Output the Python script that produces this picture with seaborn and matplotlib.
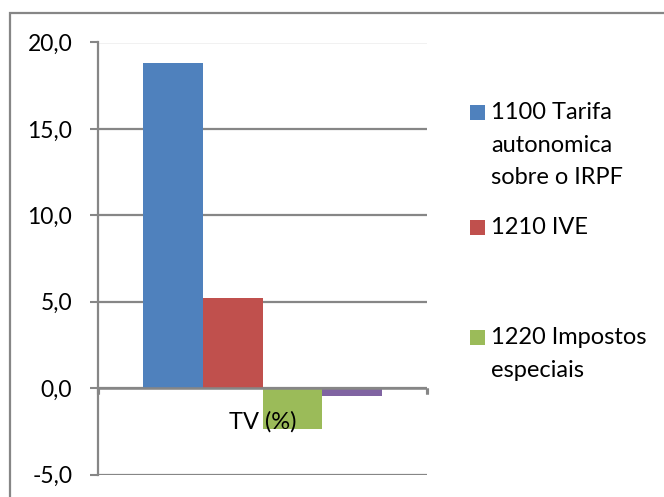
import matplotlib
matplotlib.use("Agg")
import matplotlib.pyplot as plt
import seaborn as sns
import pandas as pd
from matplotlib.patches import Rectangle
from matplotlib.ticker import FuncFormatter

# ---- data ----
category = ["TV (%)"]
series = ["1100 Tarifa\nautonomica\nsobre o IRPF", "1210 IVE", "1220 Impostos\nespeciais", "1230"]
values = [18.8, 5.2, -2.35, -0.45]
colors = ["#4F81BD", "#C0504D", "#9BBB59", "#8064A2"]
yticks = [-5, 0, 5, 10, 15, 20]

df = pd.DataFrame({"cat": category * len(series), "series": series, "value": values})

sns.set_theme(style="white")
plt.rcParams["font.family"] = ["Lato", "DejaVu Sans"]

fig = plt.figure(figsize=(6.64, 4.97), dpi=100)
W, H = 664, 497
ax = fig.add_axes([98 / W, 1 - 474.5 / H, (427 - 98) / W, (474.5 - 42.5) / H])

sns.barplot(data=df, x="cat", y="value", hue="series", palette=colors,
            width=0.727, gap=0, saturation=1, legend=False, ax=ax, zorder=2,
            linewidth=0, edgecolor="none")

grid = "#868686"
ax.set_ylim(-5, 20)
ax.set_xlim(-0.5, 0.5)
ax.set_yticks(yticks)
ax.yaxis.set_major_formatter(FuncFormatter(lambda v, p: f"{v:.1f}".replace(".", ",")))
ax.tick_params(axis="y", length=5.5, width=1.5, color=grid, direction="out",
               pad=13, labelsize=16.5, labelcolor="black", left=True)
ax.grid(axis="y", color=grid, linewidth=1.6)
ax.set_axisbelow(True)
for s in ["top", "right", "bottom"]:
    ax.spines[s].set_visible(False)
ax.spines["left"].set_color(grid)
ax.spines["left"].set_linewidth(1.6)
ax.set_xlabel("")
ax.set_ylabel("")
ax.set_xticks([])

# horizontal axis at zero with category boundary ticks
ax.axhline(0, color=grid, linewidth=1.8, zorder=3)
for xb in [-0.5, 0.5]:
    ax.plot([xb, xb], [0, 0], marker=[(0, 0), (0, -1)], markersize=8,
            markeredgewidth=2.2, color=grid, clip_on=False, zorder=3)

ax.annotate(category[0], xy=(0, 0), xycoords="data", xytext=(0, -24),
            textcoords="offset points", ha="center", va="center",
            fontsize=17, color="black", zorder=5, annotation_clip=False)

# outer chart frame
fig.patches.append(Rectangle((9.5 / W, -0.1), 1.2, 1 - 13 / H + 0.1,
                             transform=fig.transFigure, fill=False,
                             edgecolor=grid, linewidth=1.6))

# legend (first three entries visible)
leg_y = [145, 227, 354]
for lab, col, yc in zip(series[:3], colors[:3], leg_y):
    nlines = lab.count("\n") + 1
    y_top = yc - (nlines - 1) * 33 / 2
    fig.patches.append(Rectangle((470 / W, 1 - (y_top + 7.5) / H), 15 / W, 15 / H,
                                 transform=fig.transFigure, facecolor=col,
                                 edgecolor="none"))
    fig.text(491 / W, 1 - yc / H, lab, ha="left", va="center", fontsize=17,
             linespacing=1.7, color="black")

fig.savefig("out.png", dpi=100)
